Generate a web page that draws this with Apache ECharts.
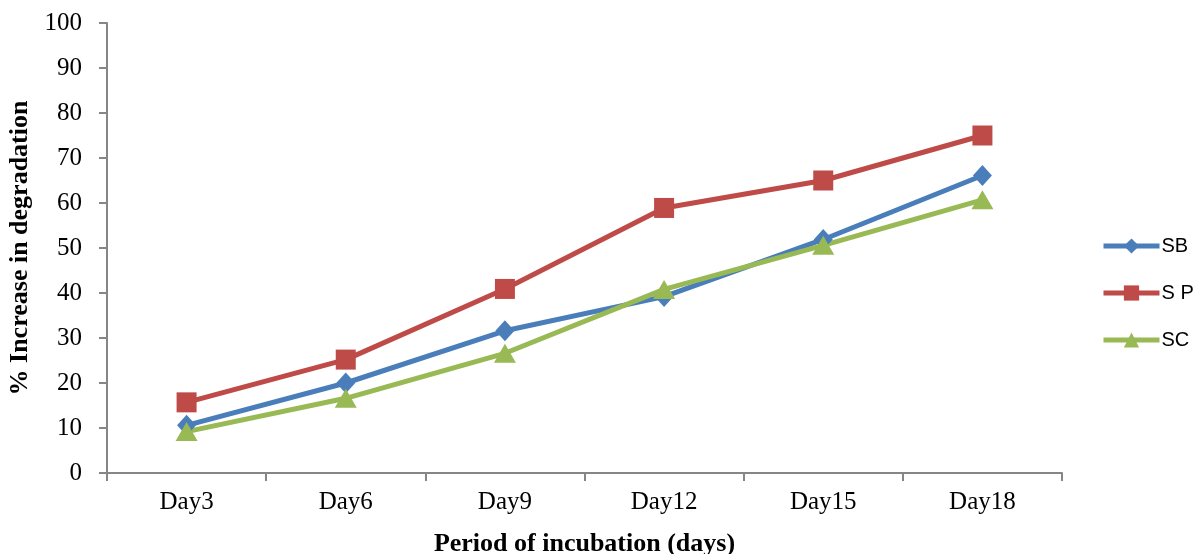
<!DOCTYPE html>
<html>
<head>
<meta charset="utf-8">
<script src="https://cdn.jsdelivr.net/npm/echarts@6/dist/echarts.min.js"></script>
<style>
  html, body { margin: 0; padding: 0; background: #fff; }
  #chart { width: 1195px; height: 554px; }
</style>
</head>
<body>
<div id="chart"></div>
<script>
// categories and series values
const days = ["Day3", "Day6", "Day9", "Day12", "Day15", "Day18"];
const sbValues = [10.6, 20.0, 31.6, 39.2, 51.9, 66.1];
const spValues = [15.7, 25.2, 40.9, 58.9, 65.0, 75.0];
const scValues = [9.2, 16.6, 26.6, 40.8, 50.6, 60.7];

const serif = "'Liberation Serif', 'DejaVu Serif', serif";
const sans = "'Liberation Sans', Arial, sans-serif";
const axisGray = "#868686";

const chart = echarts.init(document.getElementById("chart"));

function lineSeries(name, data, color, symbol, size) {
  return {
    name: name,
    type: "line",
    data: data,
    symbol: symbol,
    symbolSize: size,
    showAllSymbol: true,
    lineStyle: { color: color, width: 5 },
    itemStyle: { color: color },
    emphasis: { disabled: true },
    z: 2
  };
}

chart.setOption({
  animation: false,
  grid: { left: 107, right: 133, top: 23, bottom: 81, containLabel: false, outerBoundsMode: "none" },
  legend: {
    orient: "vertical",
    left: 1101,
    top: 236,
    padding: 0,
    itemWidth: 56,
    itemHeight: 19,
    itemGap: 27,
    lineStyle: { width: 5 },
    textStyle: { fontFamily: sans, fontSize: 20, color: "#000", padding: [0, 0, 0, -3] },
    data: ["SB", "S P", "SC"]
  },
  xAxis: {
    type: "category",
    data: days,
    boundaryGap: true,
    name: "Period of incubation (days)",
    nameLocation: "middle",
    nameGap: 58,
    nameTextStyle: { fontFamily: serif, fontSize: 26, fontWeight: "bold", color: "#000" },
    axisLine: { lineStyle: { color: axisGray, width: 2 } },
    axisTick: { show: true, length: 8, interval: 0, lineStyle: { color: axisGray, width: 2 } },
    axisLabel: { fontFamily: serif, fontSize: 25, color: "#000", margin: 17 }
  },
  yAxis: {
    type: "value",
    min: 0,
    max: 100,
    interval: 10,
    name: "% Increase in degradation",
    nameLocation: "middle",
    nameGap: 72,
    nameTextStyle: { fontFamily: serif, fontSize: 26, fontWeight: "bold", color: "#000" },
    axisLine: { show: true, lineStyle: { color: axisGray, width: 2 } },
    axisTick: { show: true, length: 8, lineStyle: { color: axisGray, width: 2 } },
    axisLabel: { fontFamily: serif, fontSize: 25, color: "#000", margin: 25 },
    splitLine: { show: false }
  },
  series: [
    lineSeries("SB", sbValues, "#4A7EBB", "diamond", [19, 21]),
    lineSeries("S P", spValues, "#BE4B48", "rect", 20),
    lineSeries("SC", scValues, "#98B954", "triangle", [22, 19])
  ]
});
</script>
</body>
</html>
